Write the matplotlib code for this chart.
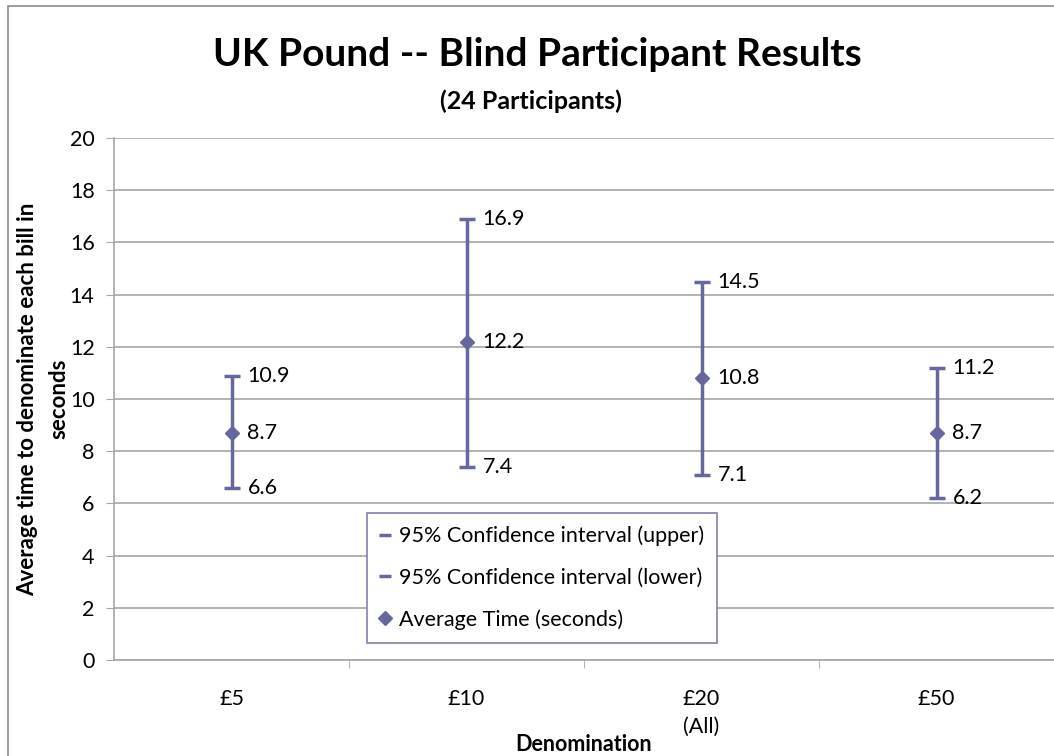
import numpy as np
import matplotlib.pyplot as plt
from matplotlib.lines import Line2D
from matplotlib.patches import Rectangle

plt.rcParams['font.family'] = ['Lato', 'DejaVu Sans']

# data
denoms = ['£5', '£10', '£20\n(All)', '£50']
avg_time = [8.7, 12.2, 10.8, 8.7]
ci_upper = [10.9, 16.9, 14.5, 11.2]
ci_lower = [6.6, 7.4, 7.1, 6.2]

col = '#67679f'
grid_col = '#a6a6a6'
fs = 15.5

fig = plt.figure(figsize=(10.54, 7.56), dpi=100)
ax = fig.add_axes([114/1054, 96/756, 940/1054, 522/756])

# outer chart border (cropped at right and bottom)
fig.patches.append(Rectangle((8/1054, -0.1), 1.2, 1.1 - 6/756, transform=fig.transFigure,
                             fill=False, edgecolor='#8c8c8c', lw=1.2))

x = np.arange(len(denoms))
ax.vlines(x, ci_lower, ci_upper, color=col, lw=2.5, zorder=3)
ax.plot(x, ci_upper, ls='none', marker='_', ms=11, mew=2.5, color=col, zorder=3)
ax.plot(x, ci_lower, ls='none', marker='_', ms=11, mew=2.5, color=col, zorder=3)
ax.plot(x, avg_time, ls='none', marker='D', ms=7, color=col, zorder=4)

for xi, u, m, l in zip(x, ci_upper, avg_time, ci_lower):
    for v in (u, m, l):
        ax.annotate(f'{v:.1f}', (xi, v), xytext=(11.5, 0), textcoords='offset points',
                    va='center', ha='left', fontsize=fs)

ax.set_xlim(-0.5, 3.5)
ax.set_ylim(0, 20)
ax.set_yticks(range(0, 21, 2))
ax.set_xticks(x)
ax.set_xticklabels(denoms, fontsize=fs, linespacing=1.45)
ax.set_xticks(np.arange(0.5, 3.5, 1), minor=True)
ax.tick_params(axis='x', which='major', length=0, pad=21)
ax.tick_params(axis='x', which='minor', length=6, color=grid_col)
ax.tick_params(axis='y', length=6, color=grid_col, labelsize=fs, pad=8)
ax.yaxis.grid(True, color=grid_col, lw=1.2)
ax.set_axisbelow(True)
for s in ('top', 'right'):
    ax.spines[s].set_visible(False)
for s in ('left', 'bottom'):
    ax.spines[s].set_color(grid_col)
    ax.spines[s].set_linewidth(1.2)

ax.set_ylabel('Average time to denominate each bill in\nseconds', fontsize=16,
              fontweight='bold', labelpad=0, linespacing=1.65)
ax.set_xlabel('Denomination', fontsize=fs, fontweight='bold', labelpad=-2)

fig.text(537/1054, 1 - 55/756, 'UK Pound -- Blind Participant Results', ha='center',
         va='center', fontsize=28, fontweight='bold')
fig.text(531/1054, 1 - 101/756, '(24 Participants)', ha='center', va='center',
         fontsize=18, fontweight='bold')

handles = [
    Line2D([], [], ls='none', marker='_', ms=9, mew=2.5, color=col),
    Line2D([], [], ls='none', marker='_', ms=9, mew=2.5, color=col),
    Line2D([], [], ls='none', marker='D', ms=7, color=col),
]
labels = ['95% Confidence interval (upper)', '95% Confidence interval (lower)',
          'Average Time (seconds)']
leg = ax.legend(handles, labels, loc='lower left', bbox_to_anchor=(0.269, 0.033),
                fontsize=fs, frameon=True, fancybox=False, edgecolor='#8080b0',
                handlelength=0.5, handletextpad=0.4, labelspacing=1.0,
                borderpad=0.6, borderaxespad=0, framealpha=1)
leg.get_frame().set_linewidth(1.2)

fig.savefig('out.png', dpi=100)
